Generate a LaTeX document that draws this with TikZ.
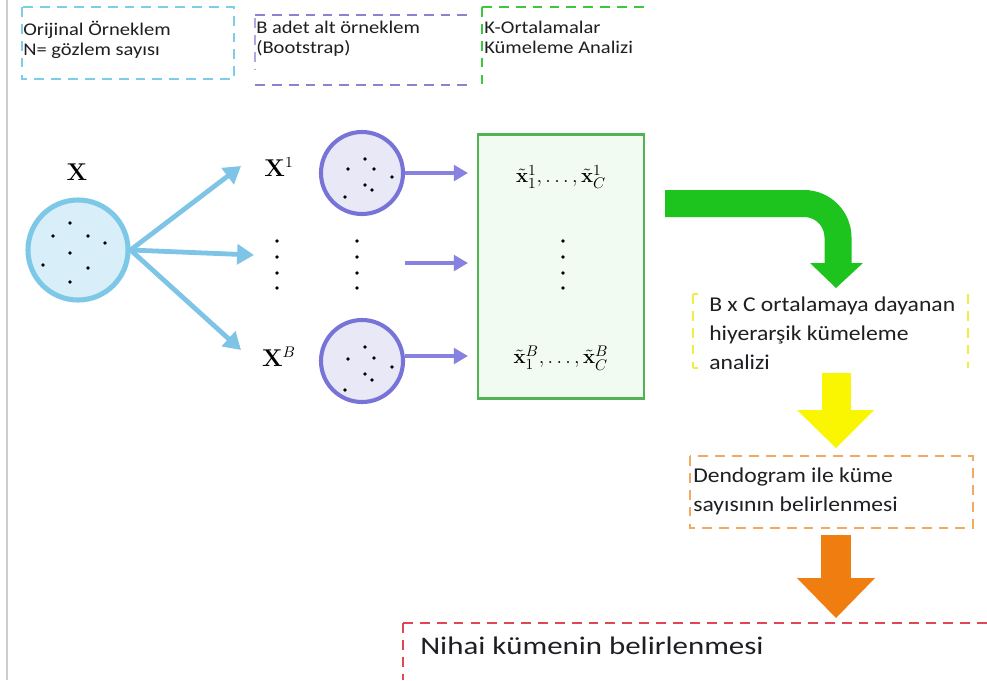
\documentclass[tikz,border=0pt]{standalone}
\usepackage{amsmath}
\usepackage[no-math]{fontspec}
\setmainfont{Carlito}
\newfontfamily\lblfont[FakeStretch=1.15]{Carlito}
\newfontfamily\boxfont[FakeStretch=1.12]{Carlito}
\newfontfamily\bigfont[FakeStretch=1.22]{Carlito}
\usetikzlibrary{arrows.meta}
\definecolor{txt}{RGB}{30,30,35}
\definecolor{cyanD}{RGB}{125,205,232}
\definecolor{purpD}{RGB}{140,130,210}
\definecolor{greenD}{RGB}{60,200,60}
\definecolor{bigB}{RGB}{125,200,230}
\definecolor{bigF}{RGB}{216,238,248}
\definecolor{lbA}{RGB}{125,196,230}
\definecolor{smB}{RGB}{120,115,215}
\definecolor{smF}{RGB}{232,232,246}
\definecolor{pA}{RGB}{135,130,225}
\definecolor{gbB}{RGB}{80,180,80}
\definecolor{gbF}{RGB}{241,251,241}
\definecolor{gA}{RGB}{30,196,30}
\definecolor{yA}{RGB}{250,245,0}
\definecolor{yD}{RGB}{238,238,70}
\definecolor{oA}{RGB}{240,125,15}
\definecolor{oD}{RGB}{240,170,100}
\definecolor{rD}{RGB}{225,70,85}
\definecolor{grayL}{RGB}{205,205,205}
\begin{document}
\begin{tikzpicture}[x=0.025cm,y=-0.025cm,
  dashbox/.style={line width=1.5pt, dash pattern=on 7pt off 5pt},
  lbl/.style={inner sep=0pt, anchor=north west, align=left, text=txt,
    font=\lblfont\fontsize{12.7}{14.4}\selectfont},
  stepbox/.style={inner sep=0pt, anchor=north west, align=left, text=txt,
    font=\boxfont\fontsize{15}{20.3}\selectfont},
  dot/.style={circle, fill=black, inner sep=0pt, minimum size=2.8pt},
  bigc/.style={circle, draw=bigB, fill=bigF, line width=3.6pt, minimum size=2.5cm, inner sep=0pt},
  smc/.style={circle, draw=smB, fill=smF, line width=2.9pt, minimum size=2.05cm, inner sep=0pt},
  lbarrow/.style={draw=lbA, line width=3.4pt, -{Triangle[length=12pt,width=14pt]}},
  parrow/.style={draw=pA, line width=2.6pt, -{Triangle[length=10pt,width=11pt]}},
  mathlbl/.style={inner sep=0pt, font=\fontsize{16}{18}\selectfont},
  gmath/.style={inner sep=0pt, font=\fontsize{15}{17}\selectfont}
]
\useasboundingbox (0,0) rectangle (987,680);
\fill[white] (0,0) rectangle (987,680);
\draw[grayL, line width=1pt] (7,0) -- (7,680);

% header boxes
\draw[dashbox, cyanD] (22,7) rectangle (234,79);
\node[lbl] (h1) at (23,21) {Orijinal Örneklem\\N= gözlem sayısı};
\draw[dashbox, purpD] (255,15) -- (470,15);
\draw[dashbox, purpD] (255,85) -- (470,85);
\draw[dashbox, purpD!70] (255,18) -- (255,70);
\node[lbl] (h2) at (256,21) {B adet alt örneklem\\(Bootstrap)};
\draw[dashbox, greenD] (482,7) -- (646,7);
\draw[dashbox, greenD] (482,7) -- (482,88);
\node[lbl] (h3) at (484,21) {K-Ortalamalar\\Kümeleme Analizi};

% original sample
\node[mathlbl] (Xl) at (77,172) {$\mathbf{X}$};
\node[bigc] (Xc) at (78,250) {};
\foreach \p in {(70,223),(53,236),(88,236),(105,243),(70,253),(43,265),(88,268),(70,282)}
  \node[dot] at \p {};

\coordinate (t1) at (241,166);
\coordinate (t2) at (254,255);
\coordinate (t3) at (241,350);
\draw[lbarrow] (Xc.east) -- (t1);
\draw[lbarrow] (Xc.east) -- (t2);
\draw[lbarrow] (Xc.east) -- (t3);

\node[mathlbl] (X1) at (279,167) {$\mathbf{X}^1$};
\node[mathlbl] (XB) at (279,357) {$\mathbf{X}^{B}$};
\foreach \yy in {241,257,273,288} {
  \node[dot] at (277,\yy) {};
  \node[dot] at (357,\yy) {};
}

% bootstrap samples
\node[smc] (S1) at (362,173) {};
\foreach \p in {(365,159),(348,169),(374,169),(392,177),(365,185),(372,190),(345,197)}
  \node[dot] at \p {};
\node[smc] (SB) at (362,361) {};
\foreach \p in {(365,347),(348,359),(374,358),(392,367),(365,374),(372,380),(345,390)}
  \node[dot] at \p {};

% k-means box
\node[draw=gbB, fill=gbF, line width=1.6pt, minimum width=4.15cm, minimum height=6.6cm, inner sep=0pt] (G) at (561,266.5) {};
\node[gmath] (m1) at (561,177) {$\tilde{\mathbf{x}}_1^1,\ldots,\tilde{\mathbf{x}}_C^1$};
\node[gmath] (mB) at (561,358) {$\tilde{\mathbf{x}}_1^B,\ldots,\tilde{\mathbf{x}}_C^B$};
\foreach \yy in {241,257,273,288} \node[dot] at (563,\yy) {};

\coordinate (p1) at (468,173);
\coordinate (p2s) at (405,263);
\coordinate (p2) at (468,263);
\coordinate (p3) at (468,356);
\draw[parrow] (S1.east) -- (p1);
\draw[parrow] (p2s) -- (p2);
\draw[parrow] (SB.east |- p3) -- (p3);

% green bent arrow
\coordinate (ga0) at (665,203.5);
\coordinate (ga1) at (838,203.5);
\coordinate (ga2) at (838,264);
\draw[gA, line width=19.2pt, rounded corners=0.85cm] (ga0) -- (ga1) -- (ga2);
\fill[gA] (810,263) -- (863,263) -- (836,288) -- cycle;

% yellow step
\draw[dashbox, yD] (693,294) -- (693,368);
\draw[dashbox, yD] (968,294) -- (968,368);
\draw[yD, line width=1.5pt] (693,294) -- (698,294);
\draw[yD, line width=1.5pt] (693,368) -- (698,368);
\node[stepbox] (Y) at (709,297) {B x C ortalamaya dayanan\\hiyerarşik kümeleme\\analizi};

% yellow arrow
\fill[yA] (822,373) rectangle (851,410);
\fill[yA] (797,410) -- (874,410) -- (836,448) -- cycle;

% orange step
\draw[dashbox, oD] (690,456) rectangle (973,528);
\node[stepbox] (D) at (693,468) {Dendogram ile küme\\sayısının belirlenmesi};

% orange arrow
\fill[oA] (821,535) rectangle (851,578);
\fill[oA] (797,578) -- (875,578) -- (836,618) -- cycle;

% final
\draw[dashbox, rD] (403,623) -- (987,623);
\draw[dashbox, rD] (403,623) -- (403,680);
\node[inner sep=0pt, anchor=north west, text=txt, font=\bigfont\fontsize{18}{22}\selectfont] (N) at (420,637) {Nihai kümenin belirlenmesi};
\end{tikzpicture}
\end{document}
